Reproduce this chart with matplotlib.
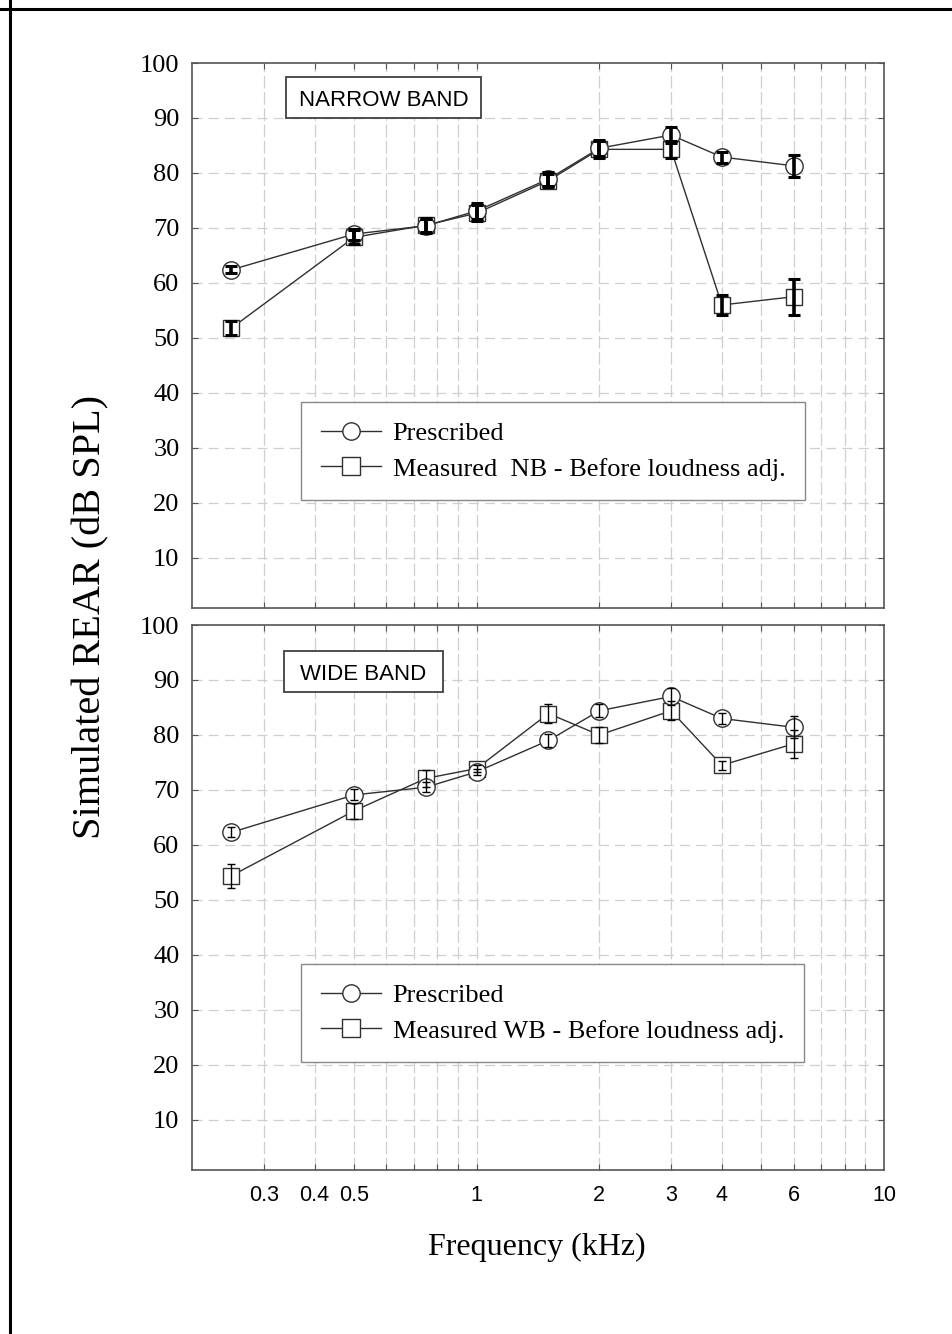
import matplotlib
matplotlib.use("Agg")
import matplotlib.pyplot as plt
from matplotlib.lines import Line2D
from matplotlib.patches import Rectangle
from matplotlib.ticker import FixedLocator, NullFormatter, NullLocator

# ---------------- data ----------------
freq_khz = [0.25, 0.5, 0.75, 1.0, 1.5, 2.0, 3.0, 4.0, 6.0]

nb_prescribed = [62.4, 68.9, 70.4, 73.1, 78.9, 84.5, 86.9, 82.9, 81.3]
nb_prescribed_err = [0.6, 1.0, 1.2, 1.4, 1.2, 1.5, 1.5, 1.0, 2.0]
nb_measured = [51.8, 68.3, 70.5, 72.7, 78.6, 84.3, 84.3, 56.0, 57.5]
nb_measured_err = [1.3, 1.3, 1.4, 1.5, 1.2, 1.6, 1.5, 1.9, 3.3]

wb_prescribed = [62.3, 69.1, 70.5, 73.3, 79.0, 84.4, 87.0, 83.0, 81.4]
wb_prescribed_err = [0.9, 1.0, 0.9, 0.5, 1.2, 1.2, 1.5, 1.0, 2.0]
wb_measured = [54.4, 66.2, 72.1, 73.9, 83.9, 80.0, 84.4, 74.5, 78.4]
wb_measured_err = [2.2, 1.5, 1.5, 0.6, 1.7, 1.5, 1.7, 0.8, 2.5]

x_tick_values = [0.3, 0.4, 0.5, 1, 2, 3, 4, 6, 10]
x_tick_labels = ["0.3", "0.4", "0.5", "1", "2", "3", "4", "6", "10"]
y_tick_values = [10, 20, 30, 40, 50, 60, 70, 80, 90, 100]
x_grid_values = [0.3, 0.4, 0.5, 0.6, 0.7, 0.8, 0.9, 1, 2, 3, 4, 5, 6, 7, 8, 9]

panel_titles = ["NARROW BAND", "WIDE BAND"]
legend_labels = [["Prescribed", "Measured  NB - Before loudness adj."],
                 ["Prescribed", "Measured WB - Before loudness adj."]]
y_label = "Simulated REAR (dB SPL)"
x_label = "Frequency (kHz)"

SERIF = "Liberation Serif"
SANS = "Liberation Sans"
LINEC = "#303030"
SPINEC = "#555555"
GRIDC = "#cfcfcf"

fig = plt.figure(figsize=(9.52, 13.34), dpi=100)
W, H = 952.0, 1334.0


def fx(px):
    return px / W


def fy(py):
    return 1 - py / H


left, right = 192, 884
ax_top = fig.add_axes([fx(left), fy(608), fx(right - left), (608 - 63) / H])
ax_bot = fig.add_axes([fx(left), fy(1170), fx(right - left), (1170 - 625) / H])

panels = [
    (ax_top, nb_prescribed, nb_prescribed_err, nb_measured, nb_measured_err,
     dict(elinewidth=2.6, capsize=4, capthick=2.2), (286, 481, 77, 118)),
    (ax_bot, wb_prescribed, wb_prescribed_err, wb_measured, wb_measured_err,
     dict(elinewidth=1.0, capsize=3, capthick=1.0), (284, 443, 651, 692)),
]

for i, (ax, pres, pres_e, meas, meas_e, ebstyle, box) in enumerate(panels):
    ax.set_xscale("log")
    ax.set_xlim(0.2, 10)
    ax.set_ylim(0.9, 100)

    # grid
    for gx in x_grid_values:
        ax.axvline(gx, color=GRIDC, lw=0.9, dashes=(10, 3), zorder=0)
    for gy in y_tick_values[:-1]:
        ax.axhline(gy, color=GRIDC, lw=0.9, dashes=(8, 5), zorder=0)

    # lines + markers
    hp, = ax.plot(freq_khz, pres, color=LINEC, lw=1.0, marker="o", ms=12.5,
                  mfc="white", mec=LINEC, mew=1.0, zorder=3)
    hm, = ax.plot(freq_khz, meas, color=LINEC, lw=1.0, marker="s", ms=11.5,
                  mfc="white", mec=LINEC, mew=1.0, zorder=2)
    ax.errorbar(freq_khz, pres, yerr=pres_e, fmt="none", ecolor="black",
                zorder=4, **ebstyle)
    ax.errorbar(freq_khz, meas, yerr=meas_e, fmt="none", ecolor="black",
                zorder=4, **ebstyle)

    # ticks
    ax.xaxis.set_major_locator(FixedLocator(x_grid_values))
    ax.xaxis.set_minor_locator(NullLocator())
    ax.yaxis.set_major_locator(FixedLocator(y_tick_values))
    ax.tick_params(direction="in", length=4, width=0.8, color=SPINEC,
                   top=True, right=True, left=True, bottom=True)
    ax.set_yticklabels([str(v) for v in y_tick_values], fontfamily=SERIF,
                       fontsize=19)
    ax.tick_params(axis="y", pad=9)
    if i == 1:
        labs = [x_tick_labels[x_tick_values.index(v)] if v in x_tick_values else ""
                for v in x_grid_values]
        ax.set_xticklabels(labs, fontfamily=SANS, fontsize=15.5)
        ax.tick_params(axis="x", pad=11)
        ax.set_xticks([10], minor=True)
        ax.set_xticklabels(["10"], minor=True, fontfamily=SANS, fontsize=15.5)
        ax.tick_params(axis="x", which="minor", pad=11, length=0)
    else:
        ax.xaxis.set_major_formatter(NullFormatter())

    for sp in ax.spines.values():
        sp.set_color(SPINEC)
        sp.set_linewidth(1.2)

    # panel title box
    x0, x1, y0, y1 = box
    ax.add_patch(Rectangle((fx(x0), fy(y1)), fx(x1 - x0), (y1 - y0) / H,
                           transform=fig.transFigure, fill=True, fc="white",
                           ec="#404040", lw=1.3, zorder=5))
    fig.text(fx((x0 + x1) / 2), fy((y0 + y1) / 2), panel_titles[i],
             fontfamily=SANS, fontsize=16, ha="center", va="center_baseline",
             zorder=6)

    # legend
    leg = ax.legend([hp, hm], legend_labels[i], loc="upper left",
                    bbox_to_anchor=(0.1575, 0.378), borderaxespad=0,
                    prop={"family": SERIF, "size": 19}, frameon=True,
                    fancybox=False, edgecolor="#888888", framealpha=1,
                    handlelength=2.3, handletextpad=0.42, labelspacing=0.45,
                    borderpad=0.75, numpoints=1)
    leg.get_frame().set_linewidth(1.0)
    for h in leg.legend_handles:
        h.set_markersize(12.5)

# axis labels
fig.text(fx(91), fy(617), y_label, rotation=90, fontfamily=SERIF,
         fontsize=29, ha="center", va="center")
fig.text(fx(537), fy(1247), x_label, fontfamily=SERIF, fontsize=23,
         ha="center", va="center")

# partial figure frame (top and left)
fig.add_artist(Line2D([0, 1], [fy(9), fy(9)], transform=fig.transFigure,
                      color="black", lw=2.2))
fig.add_artist(Line2D([fx(10), fx(10)], [0, 1], transform=fig.transFigure,
                      color="black", lw=2.2))

fig.savefig("out.png", dpi=100)
